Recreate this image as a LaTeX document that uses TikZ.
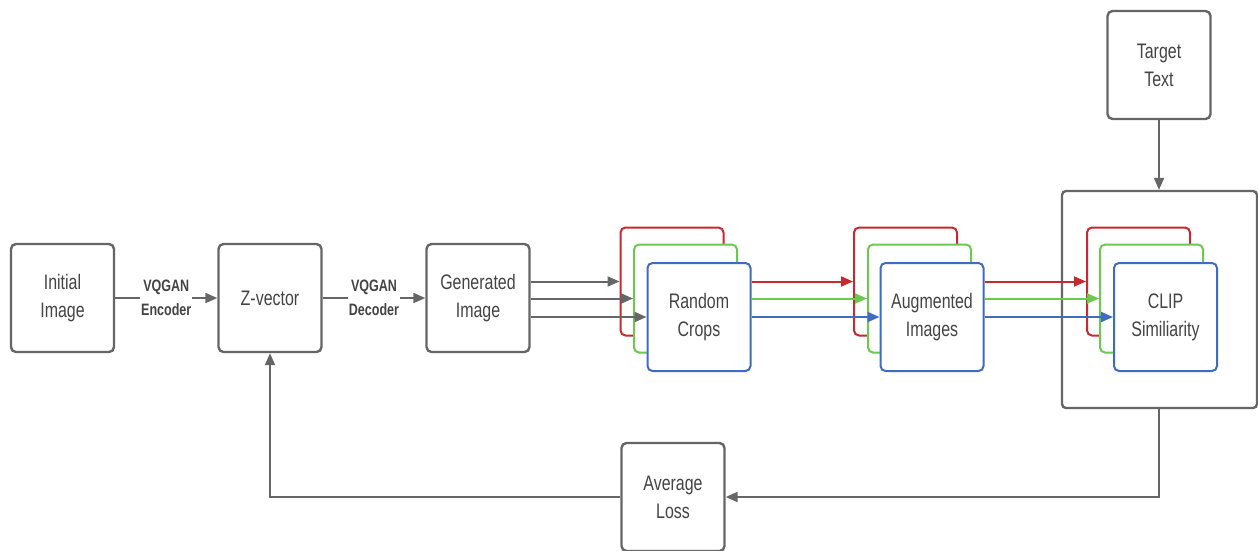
\documentclass[tikz,border=0pt]{standalone}
\usepackage{fontspec}
\setmainfont{Liberation Sans}[FakeStretch=0.76]
\usetikzlibrary{arrows.meta}
\definecolor{edge}{HTML}{666666}
\definecolor{txt}{HTML}{444444}
\definecolor{cred}{HTML}{C8282E}
\definecolor{cgreen}{HTML}{6CC84F}
\definecolor{cblue}{HTML}{3E6CC2}
\tikzset{
  box/.style={draw=edge, line width=2.4pt, rounded corners=5pt, fill=white,
    minimum width=103pt, minimum height=108pt, inner sep=0pt,
    text=txt, align=center, font=\fontsize{21}{28}\selectfont},
  cbox/.style={box, line width=2pt},
  lbl/.style={fill=white, inner sep=1pt, text=txt, align=center,
    font=\fontsize{16.5}{23.5}\selectfont\bfseries},
  arr/.style={draw=edge, line width=2pt, -{Triangle[length=12pt,width=10pt]}},
  carr/.style={line width=2pt, -{Triangle[length=12pt,width=10pt]}}
}
\begin{document}
\begin{tikzpicture}[x=1pt,y=-1pt]
\useasboundingbox (0,0) rectangle (1258,550);

% main chain
\node[box] (init) at (62.5,298) {Initial\\Image};
\node[box] (z) at (270,298) {Z-vector};
\node[box] (gen) at (478,298) {Generated\\Image};

% random crops stack
\node[cbox, draw=cred] (cropR) at (672,281.5) {};
\node[cbox, draw=cgreen] (cropG) at (685.5,298.5) {};
\node[cbox, draw=cblue] (cropB) at (699,317) {Random\\Crops};

% augmented images stack
\node[cbox, draw=cred] (augR) at (905.5,281.5) {};
\node[cbox, draw=cgreen] (augG) at (919.5,298.5) {};
\node[cbox, draw=cblue] (augB) at (932,317) {Augmented\\Images};

% CLIP container and stack
\node[box, rounded corners=4pt, minimum width=195pt, minimum height=217pt] (clip) at (1159.5,299.5) {};
\node[cbox, draw=cred] (clipR) at (1138.5,281.5) {};
\node[cbox, draw=cgreen] (clipG) at (1151.5,298.5) {};
\node[cbox, draw=cblue] (clipB) at (1165.5,317) {CLIP\\Similiarity};

\node[box] (target) at (1159,65) {Target\\Text};
\node[box] (loss) at (673,497) {Average\\Loss};

% encoder / decoder
\draw[arr] (init) -- node[lbl] {VQGAN\\Encoder} (z);
\draw[arr] (z) -- node[lbl] {VQGAN\\Decoder} (gen);

% generated image into the crops
\draw[arr] (gen.east |- cropR) -- (cropR.west);
\draw[arr] (gen.east |- cropG) -- (cropG.west);
\draw[arr] (gen.east |- cropB) -- (cropB.west);

% crops into augmentations
\draw[carr, cred] (cropB.east |- cropR) -- (augR.west);
\draw[carr, cgreen] (cropB.east |- cropG) -- (augG.west);
\draw[carr, cblue] (cropB.east |- cropB) -- (augB.west);

% augmentations into CLIP
\draw[carr, cred] (augB.east |- augR) -- (clipR.west);
\draw[carr, cgreen] (augB.east |- augG) -- (clipG.west);
\draw[carr, cblue] (augB.east |- augB) -- (clipB.west);

% text prompt
\draw[arr] (target.south) -- (target.south |- clip.north);

% loss feedback
\draw[arr] (target.south |- clip.south) -- (target.south |- loss) -- (loss.east);
\draw[arr] (loss.west) -- (loss.west -| z) -- (z.south);
\end{tikzpicture}
\end{document}
